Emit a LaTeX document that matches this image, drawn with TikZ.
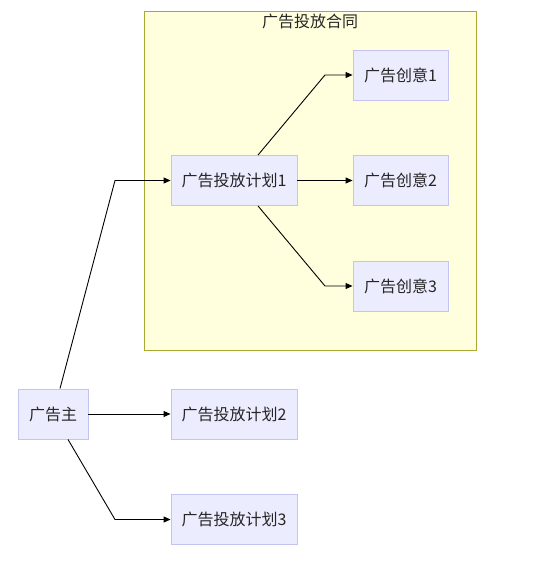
\documentclass[tikz,border=0pt]{standalone}
\usepackage{fontspec}
\setmainfont{Noto Sans CJK SC}
\usepackage{xcolor}
\usetikzlibrary{arrows.meta}
\definecolor{boxfill}{HTML}{ECECFF}
\definecolor{boxline}{HTML}{C4C4F0}
\definecolor{groupfill}{HTML}{FFFFDE}
\definecolor{groupline}{HTML}{AAAA33}

\begin{document}
\begin{tikzpicture}[x=1pt, y=-1pt, every node/.style={align=center, font=\fontsize{16}{19}\selectfont, text=black!85},
    plainbox/.style={draw=boxline, fill=boxfill, line width=0.9pt, inner sep=0pt, minimum height=50pt},
    >={Triangle[length=7pt, width=6pt]}]
				\useasboundingbox (0,0) rectangle (536,565);
				% contract group
				\draw[fill=groupfill, draw=groupline, line width=0.9pt] (144,11) rectangle (476,350);
				\node (contract) at (310,21) {广告投放合同};

				\node (adv) at (53,414) [plainbox, minimum width=70pt] {广告主};
				\node (plan1) at (234,180.5) [plainbox, minimum width=126pt] {广告投放计划1};
				\node (plan2) at (234,414) [plainbox, minimum width=126pt] {广告投放计划2};
				\node (plan3) at (234,519.5) [plainbox, minimum width=126pt] {广告投放计划3};
				\node (idea1) at (400.5,75) [plainbox, minimum width=95pt] {广告创意1};
				\node (idea2) at (400.5,180.5) [plainbox, minimum width=95pt] {广告创意2};
				\node (idea3) at (400.5,286) [plainbox, minimum width=95pt] {广告创意3};

				\draw[->, line width=0.9pt] ([xshift=7pt]adv.north) -- (115,180.5) -- (plan1.west);
				\draw[->, line width=0.9pt] (adv) -- (plan2);
				\draw[->, line width=0.9pt] ([xshift=15pt]adv.south) -- (115,519.5) -- (plan3.west);
				\draw[->, line width=0.9pt] ([xshift=24pt]plan1.north) -- (325,75) -- (idea1.west);
				\draw[->, line width=0.9pt] (plan1) -- (idea2);
				\draw[->, line width=0.9pt] ([xshift=24pt]plan1.south) -- (325,286) -- (idea3.west);
\end{tikzpicture}
\end{document}
